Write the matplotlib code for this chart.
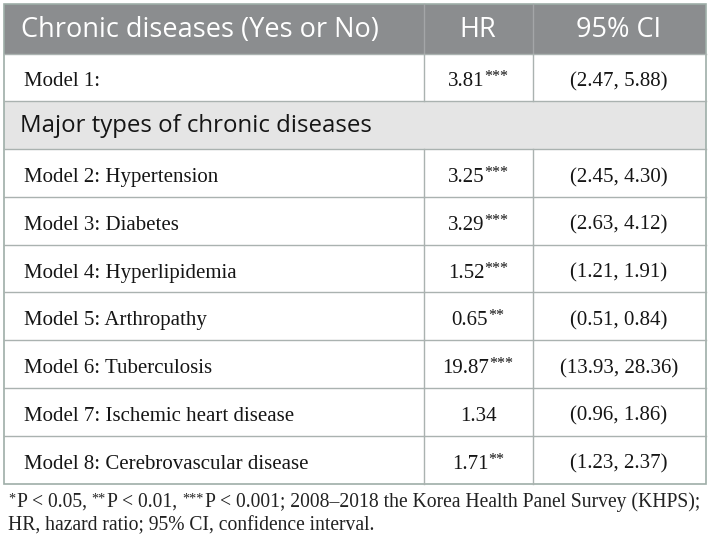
import matplotlib
matplotlib.use("Agg")
import matplotlib.pyplot as plt
from matplotlib.patches import Rectangle

header = ["Chronic diseases (Yes or No)", "HR", "95% CI"]
section = "Major types of chronic diseases"
models = ["Model 1:", "Model 2: Hypertension", "Model 3: Diabetes",
          "Model 4: Hyperlipidemia", "Model 5: Arthropathy",
          "Model 6: Tuberculosis", "Model 7: Ischemic heart disease",
          "Model 8: Cerebrovascular disease"]
hr = ["3.81", "3.25", "3.29", "1.52", "0.65", "19.87", "1.34", "1.71"]
stars = ["***", "***", "***", "***", "**", "***", "", "**"]
ci = ["(2.47, 5.88)", "(2.45, 4.30)", "(2.63, 4.12)", "(1.21, 1.91)",
      "(0.51, 0.84)", "(13.93, 28.36)", "(0.96, 1.86)", "(1.23, 2.37)"]
# (superscript, text) runs of the first footnote line
note_runs = [("*", "P < 0.05, "), ("**", "P < 0.01, "),
             ("***", "P < 0.001; 2008\u20132018 the Korea Health Panel Survey (KHPS);")]
note_line2 = "HR, hazard ratio; 95% CI, confidence interval."

W, H = 710, 543
fig = plt.figure(figsize=(W / 100, H / 100), dpi=100)
ax = fig.add_axes([0, 0, 1, 1])
ax.set_xlim(0, W)
ax.set_ylim(H, 0)
ax.axis("off")
renderer = fig.canvas.get_renderer()

left, right = 3.5, 705.5
c1, c2 = 423.5, 532.5
top, head_bot, bottom = 3.5, 53.5, 483.5
row_h = (bottom - head_bot) / 9

grid = "#aab2b0"
ink = "#151515"
serif = "Liberation Serif"
sans = "Open Sans"
body_fs = 15
star_fs = 11.5


def width(t):
    return t.get_window_extent(renderer).width


def put(x, y, s, fs, color=ink, lift=0):
    return ax.text(x, y - lift, s, fontsize=fs, family=serif,
                   va="baseline", ha="left", color=color)


def hr_cell(xc, yb, val, st):
    num = put(0, yb, val, body_fs)
    sup = put(0, yb, st, star_fs, lift=5)
    wn = width(num)
    ws = width(sup) if st else 0
    x0 = xc - (wn + ws) / 2
    num.set_x(x0)
    sup.set_x(x0 + wn - 0.5)


# header
ax.add_patch(Rectangle((left, top), right - left, head_bot - top,
                       facecolor="#8b8d8f", edgecolor="none"))
hb = 37
ax.text(21, hb, header[0], color="white", fontsize=19.5, family=sans,
        va="baseline", ha="left")
ax.text((c1 + c2) / 2, hb, header[1], color="white", fontsize=19.5,
        family=sans, va="baseline", ha="center")
ax.text((c2 + right) / 2, hb, header[2], color="white", fontsize=19.5,
        family=sans, va="baseline", ha="center")
for x in (c1, c2):
    ax.plot([x, x], [top, head_bot], color="#a4a6a8", lw=1)

# rows: model 1, section, models 2-8
rows = [models[0]] + [section] + models[1:]
for i, label in enumerate(rows):
    y0 = head_bot + i * row_h
    if label == section:
        ax.add_patch(Rectangle((left, y0), right - left, row_h,
                               facecolor="#e5e5e5", edgecolor="none"))
        ax.text(20, y0 + 31, label, fontsize=17.3, family=sans,
                va="baseline", ha="left", color=ink)
    else:
        k = models.index(label)
        yb = y0 + 33
        put(24, yb, label, body_fs)
        hr_cell((c1 + c2) / 2, yb, hr[k], stars[k])
        ax.text((c2 + right) / 2, yb, ci[k], fontsize=body_fs, family=serif,
                va="baseline", ha="center", color=ink)
        for x in (c1, c2):
            ax.plot([x, x], [y0, y0 + row_h], color=grid, lw=1)
    if i > 0:
        ax.plot([left, right], [y0, y0], color=grid, lw=1)

ax.plot([left, right], [head_bot, head_bot], color=grid, lw=1)
ax.add_patch(Rectangle((left, top), right - left, bottom - top,
                       facecolor="none", edgecolor="#9eaea8", lw=1.2))

# footnote
note_fs = 14.1
x = 8
for sup, txt in note_runs:
    t = put(x, 507, sup, note_fs * 0.72, color="#222222", lift=4.5)
    x += width(t) + 1.5
    t = put(x, 507, txt, note_fs, color="#222222")
    x += width(t)
put(8, 530, note_line2, note_fs, color="#222222")

fig.savefig("out.png", dpi=100)
